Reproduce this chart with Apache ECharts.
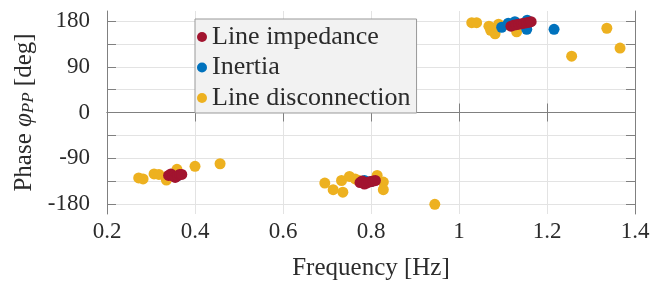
<!DOCTYPE html>
<html>
<head>
<meta charset="utf-8">
<script src="https://cdn.jsdelivr.net/npm/echarts@6/dist/echarts.min.js"></script>
<style>html,body{margin:0;padding:0;background:#fff}#c{width:653px;height:286px}</style>
</head>
<body>
<div id="c"></div>
<script>
const seriesNames = ['Line impedance', 'Inertia', 'Line disconnection'];
const xTicks = [0.2, 0.4, 0.6, 0.8, 1.0, 1.2, 1.4];
const yTickLabels = [-180, -90, 0, 90, 180];
const yGridValues = [-180, -135, -90, -45, 0, 45, 90, 135, 180];

const lineImpedance = [
  [0.340,-124],[0.345,-121],[0.350,-125],[0.355,-128],[0.360,-125],[0.365,-122],[0.370,-122],
  [0.775,-138],[0.780,-135],[0.785,-141],[0.790,-139],[0.795,-137],[0.800,-136],[0.805,-135],[0.810,-134],
  [1.118,170],[1.124,172],[1.130,173],[1.136,174],[1.142,175],[1.148,176],[1.154,177],[1.160,178],[1.164,179]
];
const inertia = [
  [0.345,-123],[0.360,-125],[0.785,-134],[0.800,-136],
  [1.097,168],[1.112,176],[1.127,179],[1.154,164],[1.155,182],[1.216,164]
];
const lineDisconnection = [
  [0.272,-129],[0.282,-131],[0.307,-121],[0.318,-122],[0.333,-127],[0.335,-133],[0.359,-112],[0.400,-106],[0.457,-101],
  [0.695,-139],[0.714,-152],[0.736,-157],[0.733,-134],[0.751,-126],[0.764,-131],[0.772,-134],[0.814,-124],[0.828,-137],[0.828,-152],[0.945,-181],
  [1.029,177],[1.040,177],[1.068,170],[1.072,162],[1.076,166],[1.082,155],[1.090,174],[1.110,173],[1.131,159],[1.256,111],[1.336,166],[1.366,127]
];

const colors = ['#A2142F', '#0072BD', '#EDB120'];
const FONT = "'Liberation Serif', 'Times New Roman', Times, serif";
const TXT = '#2b2b2b';
const AX = '#808080';
const GRID = '#e3e3e3';

const chart = echarts.init(document.getElementById('c'), null, {renderer: 'canvas'});
const commonAxisLine = {show: true, lineStyle: {color: AX, width: 1}};
chart.setOption({
  animation: false,
  backgroundColor: '#ffffff',
  textStyle: {fontFamily: FONT, color: TXT},
  grid: {left: 107, right: 18, top: 11, bottom: 68, containLabel: false},
  legend: {
    data: seriesNames,
    orient: 'vertical',
    left: 195, top: 19,
    padding: [5, 6, 2, 2],
    itemGap: 4.5,
    itemWidth: 10, itemHeight: 10,
    icon: 'circle',
    backgroundColor: '#f2f2f2',
    borderColor: '#999999',
    borderWidth: 1,
    borderRadius: 0,
    textStyle: {fontFamily: FONT, fontSize: 26, lineHeight: 26, color: TXT}
  },
  xAxis: [{
    type: 'value', min: 0.2, max: 1.4, interval: 0.2,
    name: 'Frequency [Hz]', nameLocation: 'middle', nameGap: 42,
    nameTextStyle: {fontFamily: FONT, fontSize: 25, color: TXT},
    axisLine: commonAxisLine,
    axisTick: {show: true, inside: true, length: 9, lineStyle: {color: AX}},
    axisLabel: {fontFamily: FONT, fontSize: 23, color: TXT, margin: 6,
      formatter: v => String(Math.round(v * 10) / 10)},
    splitLine: {show: true, lineStyle: {color: GRID, width: 1}}
  }, {
    type: 'value', min: 0.2, max: 1.4, interval: 0.2, position: 'top',
    axisLine: commonAxisLine,
    axisTick: {show: true, inside: true, length: 9, lineStyle: {color: AX}},
    axisLabel: {show: false}, splitLine: {show: false}
  }],
  yAxis: [{
    type: 'value', min: -200, max: 200,
    name: '{a|Phase }{p|φ}{s|PP}{a| [deg]}',
    nameLocation: 'middle', nameGap: 70, nameRotate: 90,
    nameTextStyle: {
      fontFamily: FONT, fontSize: 25, color: TXT,
      rich: {
        a: {fontFamily: FONT, fontSize: 25, color: TXT},
        p: {fontFamily: FONT, fontSize: 25, color: TXT, fontStyle: 'italic'},
        s: {fontFamily: FONT, fontSize: 17, color: TXT, fontStyle: 'italic', verticalAlign: 'bottom'}
      }
    },
    axisLine: commonAxisLine,
    axisTick: {show: true, inside: true, length: 9, lineStyle: {color: AX}, customValues: yGridValues},
    axisLabel: {fontFamily: FONT, fontSize: 23, color: TXT, margin: 17, customValues: yTickLabels},
    splitLine: {show: true, lineStyle: {color: GRID, width: 1}}
  }, {
    type: 'value', min: -200, max: 200, position: 'right',
    axisLine: commonAxisLine,
    axisTick: {show: true, inside: true, length: 9, lineStyle: {color: AX}, customValues: yGridValues},
    axisLabel: {show: false}, splitLine: {show: false}
  }],
  series: [
    {name: seriesNames[0], type: 'scatter', data: lineImpedance, symbol: 'circle', symbolSize: 11,
     itemStyle: {color: colors[0], opacity: 1}, z: 5, xAxisIndex: 0, yAxisIndex: 0},
    {name: seriesNames[1], type: 'scatter', data: inertia, symbol: 'circle', symbolSize: 11,
     itemStyle: {color: colors[1], opacity: 1}, z: 4, xAxisIndex: 0, yAxisIndex: 0},
    {name: seriesNames[2], type: 'scatter', data: lineDisconnection, symbol: 'circle', symbolSize: 11,
     itemStyle: {color: colors[2], opacity: 1}, z: 3, xAxisIndex: 0, yAxisIndex: 0}
  ]
});
</script>
</body>
</html>
